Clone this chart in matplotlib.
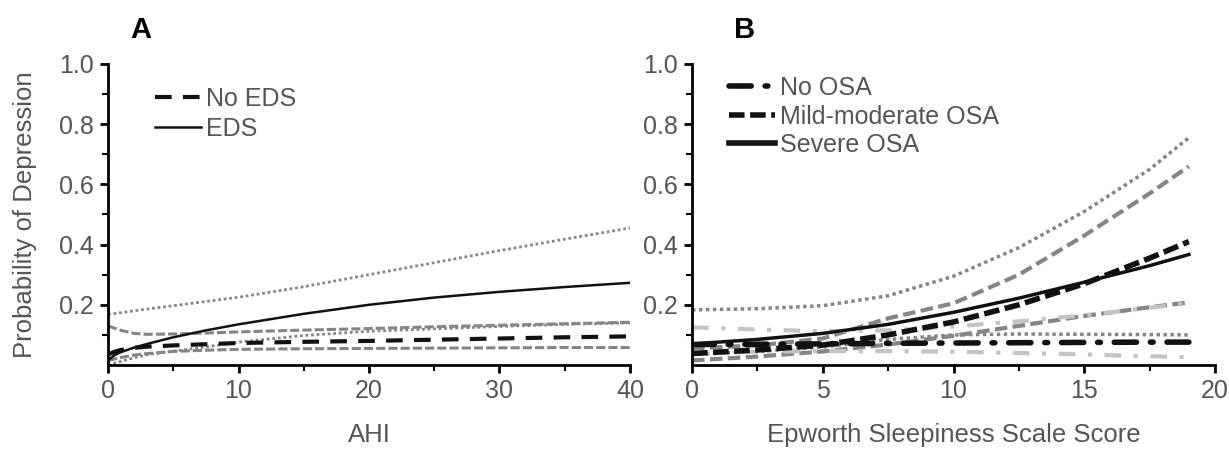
import matplotlib
matplotlib.use('Agg')
import matplotlib.pyplot as plt

plt.rcParams['font.family'] = ['Liberation Sans', 'DejaVu Sans']

TEXT_GREY = '#555555'
DARK = '#111111'
MID_GREY = '#858585'
LIGHT_GREY = '#c4c4c4'

# panel A: probability of depression vs AHI
ahi = [0, 0.5, 1, 2, 3, 5, 7.5, 10, 15, 20, 25, 30, 35, 40]
eds = [0.015, 0.033, 0.043, 0.058, 0.07, 0.092, 0.115, 0.135, 0.17, 0.2, 0.224, 0.243, 0.259, 0.273]
eds_upper = [0.168, 0.171, 0.174, 0.18, 0.186, 0.197, 0.211, 0.225, 0.26, 0.3, 0.34, 0.38, 0.418, 0.455]
eds_lower = [0.0, 0.006, 0.012, 0.024, 0.034, 0.046, 0.06, 0.076, 0.098, 0.112, 0.12, 0.128, 0.135, 0.14]
no_eds = [0.035, 0.044, 0.05, 0.057, 0.061, 0.065, 0.069, 0.073, 0.077, 0.08, 0.084, 0.088, 0.092, 0.095]
no_eds_upper = [0.13, 0.122, 0.115, 0.105, 0.102, 0.103, 0.106, 0.11, 0.116, 0.121, 0.127, 0.132, 0.137, 0.142]
no_eds_lower = [0.015, 0.02, 0.025, 0.033, 0.038, 0.045, 0.049, 0.052, 0.054, 0.055, 0.056, 0.057, 0.058, 0.058]

# panel B: probability of depression vs Epworth score
ess = [0, 2.5, 5, 7.5, 10, 12.5, 15, 17.5, 19]
severe = [0.07, 0.085, 0.105, 0.135, 0.175, 0.222, 0.275, 0.33, 0.367]
severe_upper = [0.183, 0.187, 0.197, 0.23, 0.295, 0.39, 0.51, 0.65, 0.755]
severe_lower = [0.035, 0.045, 0.06, 0.085, 0.1, 0.103, 0.102, 0.101, 0.1]
mild = [0.038, 0.05, 0.066, 0.1, 0.143, 0.2, 0.27, 0.355, 0.41]
mild_upper = [0.055, 0.065, 0.088, 0.155, 0.205, 0.3, 0.43, 0.57, 0.66]
mild_lower = [0.015, 0.028, 0.045, 0.068, 0.097, 0.13, 0.163, 0.192, 0.208]
no_osa = [0.068, 0.069, 0.07, 0.072, 0.073, 0.074, 0.075, 0.076, 0.076]
no_osa_upper = [0.125, 0.118, 0.112, 0.115, 0.128, 0.145, 0.165, 0.19, 0.205]
no_osa_lower = [0.04, 0.044, 0.046, 0.046, 0.044, 0.04, 0.035, 0.029, 0.026]

y_ticks = [0.2, 0.4, 0.6, 0.8, 1.0]
y_ticklabels = ['0.2', '0.4', '0.6', '0.8', '1.0']


def style_axes(ax, xmax, xmajor, xminor, xlabel):
    ax.set_xlim(0, xmax)
    ax.set_ylim(0, 1.0)
    for side in ('top', 'right'):
        ax.spines[side].set_visible(False)
    for side in ('left', 'bottom'):
        ax.spines[side].set_linewidth(2)
        ax.spines[side].set_color('black')
    ax.set_xticks(xmajor)
    ax.set_xticks(xminor, minor=True)
    ax.set_yticks(y_ticks)
    ax.set_yticklabels(y_ticklabels)
    ax.set_yticks([0.1, 0.3, 0.5, 0.7, 0.9], minor=True)
    ax.tick_params(which='major', direction='out', length=6, width=2,
                   labelsize=18, labelcolor=TEXT_GREY, color='black', pad=4)
    ax.tick_params(which='minor', direction='out', length=4, width=1.5, color='black')
    ax.set_xlabel(xlabel, fontsize=18.5, color=TEXT_GREY)
    ax.xaxis.set_label_coords(0.5, -0.233)
    ax.xaxis.label.set_verticalalignment('center')


fig = plt.figure(figsize=(12.29, 4.49), dpi=100)
ax_a = fig.add_axes([0.0879, 0.1871, 0.4247, 0.6704])
ax_b = fig.add_axes([0.5631, 0.1871, 0.4255, 0.6704])

# ---- panel A
ax_a.plot(ahi, eds_upper, color=MID_GREY, lw=2, linestyle=(0, (1, 1)))
ax_a.plot(ahi, eds_lower, color=MID_GREY, lw=2, linestyle=(0, (1, 1)))
ax_a.plot(ahi, no_eds_upper, color=MID_GREY, lw=2.2, linestyle=(0, (3, 1)))
ax_a.plot(ahi, no_eds_lower, color=MID_GREY, lw=2.2, linestyle=(0, (3, 1)))
l_no_eds, = ax_a.plot(ahi, no_eds, color=DARK, lw=3, linestyle=(0, (4, 2.7)), label='No EDS')
l_eds, = ax_a.plot(ahi, eds, color=DARK, lw=1.8, label='EDS')

style_axes(ax_a, 40, [0, 10, 20, 30, 40], [5, 15, 25, 35], 'AHI')
ax_a.set_ylabel('Probability of Depression', fontsize=18.5, color=TEXT_GREY)
ax_a.yaxis.set_label_coords(-0.16, 0.5)
ax_a.yaxis.label.set_verticalalignment('center')

leg_a = ax_a.legend(handles=[l_no_eds, l_eds], loc='upper left', bbox_to_anchor=(0.09, 0.925),
                    frameon=False, fontsize=18, handlelength=1.85, handletextpad=0.2,
                    labelspacing=0.25, borderaxespad=0, borderpad=0)
for t in leg_a.get_texts():
    t.set_color(TEXT_GREY)

# ---- panel B
ax_b.plot(ess, severe_upper, color=MID_GREY, lw=2.5, linestyle=(0, (1, 1)))
ax_b.plot(ess, severe_lower, color=MID_GREY, lw=2.5, linestyle=(0, (1, 1)))
ax_b.plot(ess, mild_upper, color=MID_GREY, lw=3, linestyle=(0, (3, 1.3)))
ax_b.plot(ess, mild_lower, color=MID_GREY, lw=3, linestyle=(0, (3, 1.3)))
ax_b.plot(ess, no_osa_upper, color=LIGHT_GREY, lw=3, linestyle=(0, (4, 3, 1, 3)))
ax_b.plot(ess, no_osa_lower, color=LIGHT_GREY, lw=3, linestyle=(0, (4, 3, 1, 3)))
l_no_osa, = ax_b.plot(ess, no_osa, color=DARK, lw=4, linestyle=(0, (4, 2.5, 0.5, 2.5)),
                      dash_capstyle='round', label='No OSA')
l_mild, = ax_b.plot(ess, mild, color=DARK, lw=4, linestyle=(0, (2.8, 1)), label='Mild-moderate OSA')
l_severe, = ax_b.plot(ess, severe, color=DARK, lw=2.5, label='Severe OSA')

style_axes(ax_b, 20, [0, 5, 10, 15, 20], [2.5, 7.5, 12.5, 17.5], 'Epworth Sleepiness Scale Score')

leg_b = ax_b.legend(handles=[l_no_osa, l_mild, l_severe], loc='upper left', bbox_to_anchor=(0.07, 0.96),
                    frameon=False, fontsize=18, handlelength=1.85, handletextpad=0.2,
                    labelspacing=0.18, borderaxespad=0, borderpad=0)
for t in leg_b.get_texts():
    t.set_color(TEXT_GREY)
leg_b.get_lines()[2].set_linewidth(4)

fig.text(141 / 1229, 1 - 30 / 449, 'A', fontsize=21, fontweight='bold', ha='center', va='center')
fig.text(745 / 1229, 1 - 30 / 449, 'B', fontsize=21, fontweight='bold', ha='center', va='center')

fig.savefig('out.png', dpi=100)
